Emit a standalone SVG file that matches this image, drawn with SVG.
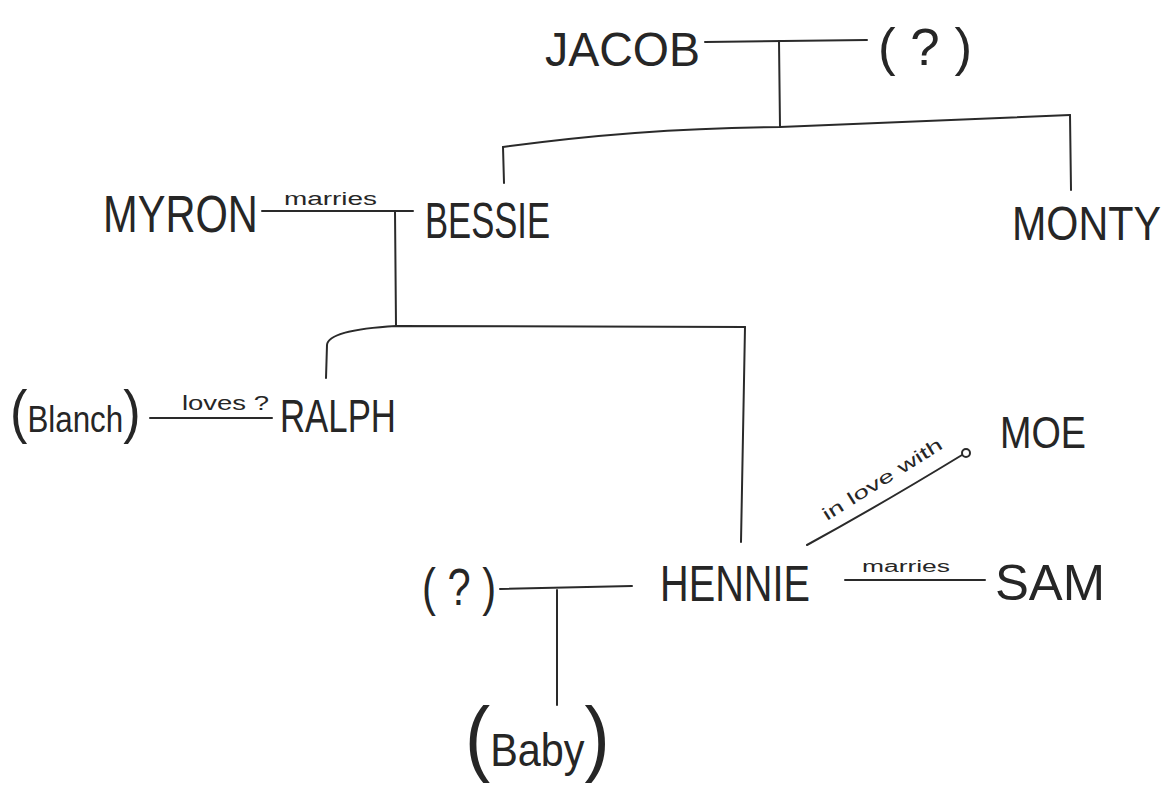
<svg xmlns="http://www.w3.org/2000/svg" width="1171" height="792" viewBox="0 0 1171 792">
<style>
.n{font-family:"Liberation Sans",Arial,sans-serif;fill:#262626;font-weight:normal}
.l{font-family:"Liberation Sans",Arial,sans-serif;fill:#262626}
.c{fill:none;stroke:#2a2a2a;stroke-width:2;stroke-linecap:round}
</style>
<rect width="1171" height="792" fill="#ffffff"/>
<g id="connectors">
<path class="c" d="M705,42 L867,40"/>
<path class="c" d="M779,41 L780,127"/>
<path class="c" d="M503,147 Q640,128 780,127 L1070,115"/>
<path class="c" d="M503,147 L504,183"/>
<path class="c" d="M1070,115 L1071,190"/>
<path class="c" d="M262,211 L413,211"/>
<path class="c" d="M395,211 L396,326"/>
<path class="c" d="M326,378 L327,345 Q328,330 396,326 L745,327"/>
<path class="c" d="M745,327 L741,542"/>
<path class="c" d="M150,418 L272,418"/>
<path class="c" d="M807,545 Q880,505 962,455"/>
<circle cx="966" cy="453" r="4" fill="none" stroke="#2a2a2a" stroke-width="2"/>
<path class="c" d="M500,589 L632,586"/>
<path class="c" d="M557,590 L557,705"/>
<path class="c" d="M845,580 L985,580"/>
<text class="l" x="284" y="205" font-size="18" textLength="93" lengthAdjust="spacingAndGlyphs">marries</text>
<text class="l" x="182" y="410" font-size="20" textLength="87" lengthAdjust="spacingAndGlyphs">loves ?</text>
<text class="l" x="0" y="0" font-size="18" textLength="138" lengthAdjust="spacingAndGlyphs" transform="translate(827,521) rotate(-32)">in love with</text>
<text class="l" x="862" y="572" font-size="16" textLength="88" lengthAdjust="spacingAndGlyphs">marries</text>
</g>
<g id="jacob"><text class="n" x="545" y="66" font-size="48" textLength="155" lengthAdjust="spacingAndGlyphs">JACOB</text></g>
<g id="unknown1"><text class="n" x="878" y="65" font-size="52" textLength="94" lengthAdjust="spacingAndGlyphs">( ? )</text></g>
<g id="myron"><text class="n" x="0" y="0" font-size="52" transform="translate(103,232) scale(0.8,1)">MYRON</text></g>
<g id="bessie"><text class="n" x="425" y="238" font-size="50" textLength="125" lengthAdjust="spacingAndGlyphs">BESSIE</text></g>
<g id="monty"><text class="n" x="0" y="0" font-size="48" transform="translate(1012,240) scale(0.86,1)">MONTY</text></g>
<g id="blanch"><text class="n" x="0" y="0" font-size="36" transform="translate(10,432) scale(0.87,1)"><tspan font-size="60">(</tspan>Blanch<tspan font-size="60">)</tspan></text></g>
<g id="ralph"><text class="n" x="280" y="432" font-size="46" textLength="116" lengthAdjust="spacingAndGlyphs">RALPH</text></g>
<g id="moe"><text class="n" x="1000" y="448" font-size="45" textLength="86" lengthAdjust="spacingAndGlyphs">MOE</text></g>
<g id="unknown2"><text class="n" x="422" y="605" font-size="52" textLength="74" lengthAdjust="spacingAndGlyphs">( ? )</text></g>
<g id="hennie"><text class="n" x="660" y="601" font-size="50" textLength="150" lengthAdjust="spacingAndGlyphs">HENNIE</text></g>
<g id="sam"><text class="n" x="995" y="600" font-size="50" textLength="110" lengthAdjust="spacingAndGlyphs">SAM</text></g>
<g id="baby"><text class="n" x="0" y="0" font-size="46" transform="translate(465,766) scale(0.9,1)"><tspan font-size="84">(</tspan>Baby<tspan font-size="84">)</tspan></text></g>
</svg>
